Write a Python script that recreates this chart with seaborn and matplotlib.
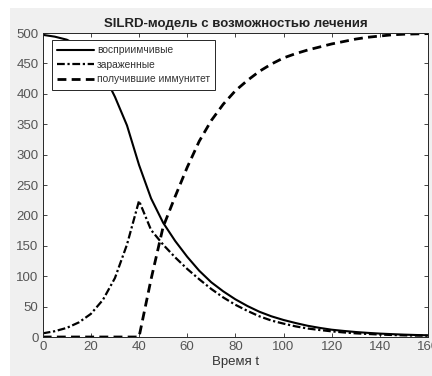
import numpy as np
import pandas as pd
import matplotlib
matplotlib.use("Agg")
import matplotlib.pyplot as plt
import seaborn as sns
from matplotlib.patches import Rectangle

t = list(range(0, 165, 5))
susceptible = [497, 494, 489, 479, 463, 435, 395, 348, 283, 228, 188, 158, 132,
               109, 90, 75, 62, 51, 41.5, 34, 28, 23, 18.5, 15, 12, 10, 8.2, 6.8,
               5.6, 4.7, 3.9, 3.3, 2.8]
infected = [6, 9.5, 15, 24, 38, 61, 97, 152, 224, 176, 152, 131, 112, 95, 79,
            65, 53, 43, 34, 27, 22, 17.5, 14, 11.5, 9.3, 7.5, 6, 5, 4, 3.3,
            2.7, 2.3, 2]
recovered = [0, 0, 0, 0, 0, 0, 0, 0, 0, 95, 181, 231, 279, 322, 356, 383, 405,
             422, 437, 449, 459, 466, 472, 477, 482, 486, 490, 493, 495, 497,
             498, 498.5, 499]
labels = ["восприимчивые", "зараженные", "получившие иммунитет"]
title = "SILRD-модель с возможностью лечения"
xlabel = "Время t"

sns.set_theme(style="white")
plt.rcParams['font.family'] = ['Liberation Sans', 'DejaVu Sans']

fig = plt.figure(figsize=(4.32, 3.76), dpi=100, facecolor="white")
bg = Rectangle((10 / 432, 0), 1, 1 - 8 / 376, transform=fig.transFigure,
               facecolor="#f0f0f0", edgecolor="none", zorder=-10)
fig.add_artist(bg)
ax = fig.add_axes([42.7 / 432, 1 - 337 / 376, (428 - 42.7) / 432, (337 - 33) / 376])
ax.set_facecolor("white")
ax.set_zorder(1)

df = pd.DataFrame({"t": t, "S": susceptible, "I": infected, "R": recovered})

sns.lineplot(data=df, x="t", y="S", ax=ax, color="black", lw=1.5, label=labels[0])
sns.lineplot(data=df, x="t", y="I", ax=ax, color="black", lw=1.6, label=labels[1],
             linestyle=(0, (3.5, 1.2, 1.0, 1.2)))
sns.lineplot(data=df, x="t", y="R", ax=ax, color="black", lw=2.0, label=labels[2],
             linestyle=(0, (3.2, 1.9)))

ax.set_xlim(0, 160)
ax.set_ylim(0, 500)
ax.set_xticks(range(0, 161, 20))
ax.set_yticks(range(0, 501, 50))
ax.tick_params(direction="in", length=3, width=0.6, colors="#262626",
               labelcolor="#555555", labelsize=9.5, top=True, right=True,
               bottom=True, left=True, pad=3)
for s in ax.spines.values():
    s.set_visible(True)
    s.set_color("#262626")
    s.set_linewidth(0.7)

ax.set_title(title, fontsize=9.5, fontweight="bold", color="#222222", pad=4)
ax.set_xlabel(xlabel, fontsize=9.5, color="#333333", labelpad=2)
ax.set_ylabel("")

leg = ax.legend(loc="upper left", bbox_to_anchor=(52 / 432, 1 - 40 / 376),
                bbox_transform=fig.transFigure, fontsize=7.4, frameon=True,
                fancybox=False, edgecolor="#262626", framealpha=1,
                handlelength=3.6, handletextpad=0.3, borderpad=0.5,
                labelspacing=0.45, borderaxespad=0)
leg.get_frame().set_linewidth(0.7)
for txt in leg.get_texts():
    txt.set_color("#333333")

fig.savefig("out.png", dpi=100, facecolor=fig.get_facecolor())
